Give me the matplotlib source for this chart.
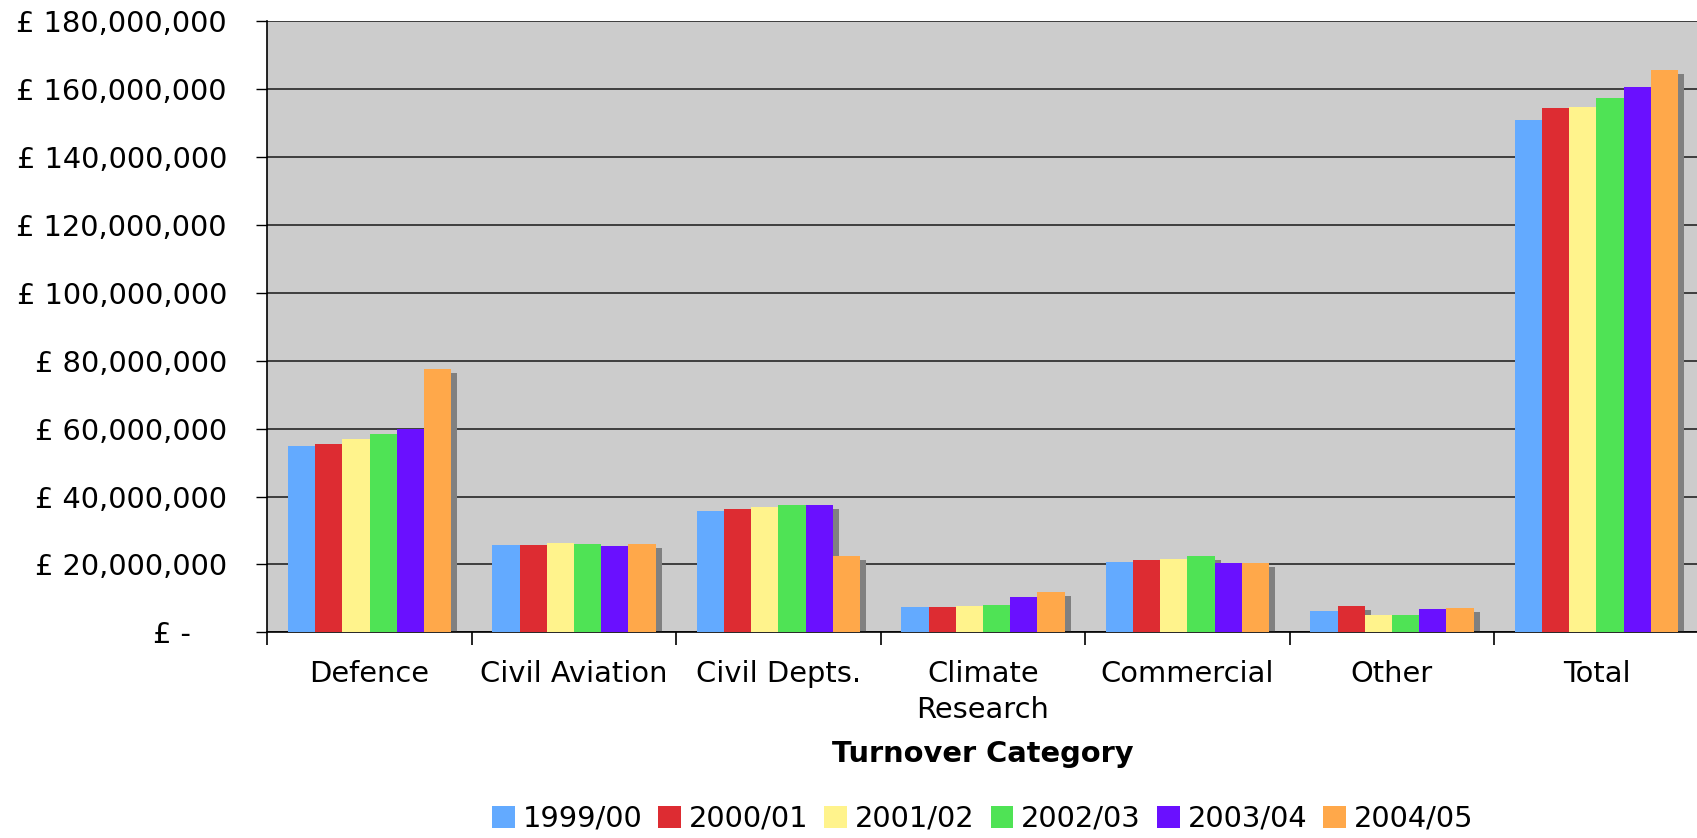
import numpy as np
import matplotlib
matplotlib.use("Agg")
import matplotlib.pyplot as plt
from matplotlib.ticker import FuncFormatter

categories = ["Defence", "Civil Aviation", "Civil Depts.", "Climate\nResearch",
              "Commercial", "Other", "Total"]
years = ["1999/00", "2000/01", "2001/02", "2002/03", "2003/04", "2004/05"]

# values in millions of pounds
y1999 = [54.9, 25.7, 35.7, 7.45, 20.7, 6.3, 151.0]
y2000 = [55.5, 25.7, 36.3, 7.45, 21.3, 7.75, 154.4]
y2001 = [57.0, 26.3, 36.9, 7.75, 21.6, 5.1, 154.8]
y2002 = [58.4, 26.0, 37.5, 8.05, 22.6, 5.1, 157.4]
y2003 = [59.9, 25.4, 37.5, 10.4, 20.4, 6.9, 160.7]
y2004 = [77.6, 26.0, 22.5, 11.9, 20.4, 7.2, 165.7]
series = [y1999, y2000, y2001, y2002, y2003, y2004]

colors = ["#63AAFF", "#DD2C32", "#FFF38C", "#4FE355", "#6A10FF", "#FFA84A"]

plt.rcParams['font.family'] = ['DejaVu Sans']
fs = 20.8

fig = plt.figure(figsize=(16.97, 8.38), dpi=100)
ax = fig.add_axes([0.1575, 0.2455, 0.8435, 0.729])
ax.set_facecolor("#CCCCCC")

x = np.arange(len(categories))
w = 0.133
dx = 0.03    # shadow shift in group units
dy = 1.2     # shadow drop in millions

for i, vals in enumerate(series):
    pos = x - 2.5 * w + i * w
    v = np.array(vals) * 1e6
    ax.bar(pos + dx, v - dy * 1e6, width=w, color="#808080", zorder=2, linewidth=0)
    ax.bar(pos, v, width=w, color=colors[i], zorder=3 + i, linewidth=0, label=years[i])

ax.set_xlim(-0.5, len(categories) - 0.5)
ax.set_ylim(0, 180e6)
ax.set_yticks(np.arange(0, 180e6 + 1, 20e6))
ax.yaxis.grid(True, color="#333333", linewidth=1.3)
ax.set_axisbelow(True)


def money(v, pos):
    if v == 0:
        return "£ -    "
    return "£ {:,.0f}".format(v)


ax.yaxis.set_major_formatter(FuncFormatter(money))
ax.tick_params(axis="y", length=8, width=1, pad=21, labelsize=fs)

ax.set_xticks(np.arange(len(categories) + 1) - 0.5, minor=True)
ax.set_xticks(x)
ax.set_xticklabels(categories, fontsize=fs, linespacing=1.38)
ax.tick_params(axis="x", which="major", length=0, pad=20)
ax.tick_params(axis="x", which="minor", length=9, width=1.2)

for s in ["top", "right"]:
    ax.spines[s].set_visible(False)
ax.spines["left"].set_linewidth(1.2)
ax.spines["bottom"].set_linewidth(1.2)

ax.set_xlabel("Turnover Category", fontsize=fs, fontweight="bold", labelpad=11)

fig.legend(loc="center", bbox_to_anchor=(0.579, 0.023), ncol=6, frameon=False,
           fontsize=fs, handlelength=0.79, handleheight=0.79, handletextpad=0.27,
           columnspacing=0.55)

fig.savefig("out.png", dpi=100)
